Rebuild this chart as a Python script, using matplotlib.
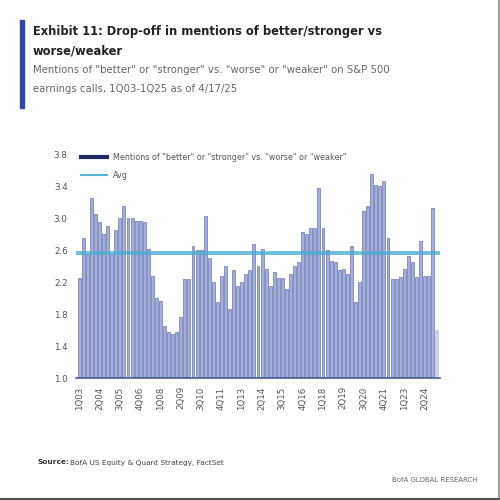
import numpy as np
import matplotlib
matplotlib.use('Agg')
import matplotlib.pyplot as plt
from matplotlib.patches import Rectangle
from matplotlib.lines import Line2D

# quarterly ratio of "better/stronger" vs "worse/weaker" mentions, 1Q03..1Q25
ratio = [2.25, 2.75, 2.55, 3.25, 3.05, 2.95, 2.80, 2.90, 2.55, 2.85,
         3.00, 3.15, 3.00, 3.00, 2.97, 2.97, 2.95, 2.62, 2.28, 2.00,
         1.96, 1.65, 1.58, 1.55, 1.58, 1.76, 2.24, 2.24, 2.65, 2.60,
         2.60, 3.03, 2.50, 2.20, 1.95, 2.28, 2.40, 1.86, 2.35, 2.15,
         2.20, 2.30, 2.35, 2.68, 2.40, 2.62, 2.37, 2.15, 2.33, 2.25,
         2.25, 2.12, 2.30, 2.40, 2.45, 2.83, 2.80, 2.88, 2.88, 3.38,
         2.88, 2.60, 2.46, 2.45, 2.35, 2.37, 2.30, 2.65, 1.95, 2.20,
         3.09, 3.15, 3.55, 3.42, 3.40, 3.47, 2.75, 2.24, 2.24, 2.27,
         2.37, 2.53, 2.45, 2.27, 2.72, 2.28, 2.28, 3.13, 1.60]
avg = 2.56

quarters = []
for yr in range(3, 26):
    for q in range(1, 5):
        quarters.append('%dQ%02d' % (q, yr))
quarters = quarters[:len(ratio)]
tick_idx = list(range(0, len(ratio), 5))
tick_labels = [quarters[i] for i in tick_idx]
yticks = [1.0, 1.4, 1.8, 2.2, 2.6, 3.0, 3.4, 3.8]

fig = plt.figure(figsize=(5, 5), dpi=100)
# frame only on right and bottom edge
fig.lines.append(Line2D([0.997, 0.997], [0.0, 1.0], transform=fig.transFigure,
                        color='#8a8a8a', lw=1.2))
fig.lines.append(Line2D([0.0, 1.0], [0.003, 0.003], transform=fig.transFigure,
                        color='#555555', lw=1.5))

# header
fig.patches.append(Rectangle((0.040, 0.784), 0.008, 0.176, transform=fig.transFigure,
                             color='#3347a8'))
fig.text(0.066, 0.937, 'Exhibit 11: Drop-off in mentions of better/stronger vs',
         fontsize=8.3, fontweight='bold', color='#222222', va='center')
fig.text(0.066, 0.899, 'worse/weaker', fontsize=8.3, fontweight='bold',
         color='#222222', va='center')
fig.text(0.066, 0.860, 'Mentions of "better" or "stronger" vs. "worse" or "weaker" on S&P 500',
         fontsize=7.3, color='#666666', va='center')
fig.text(0.066, 0.823, 'earnings calls, 1Q03-1Q25 as of 4/17/25',
         fontsize=7.3, color='#666666', va='center')

ax = fig.add_axes([0.152, 0.244, 0.728, 0.447])
x = np.arange(len(ratio))
colors = ['#a4addb'] * (len(ratio) - 1) + ['#ccd0e8']
edges = ['#6a77b0'] * (len(ratio) - 1) + ['#bcc0dd']
ax.bar(x, [r - 1.0 for r in ratio], bottom=1.0, width=0.72, color=colors,
       edgecolor=edges, linewidth=0.5, zorder=2)
ax.plot([-0.6, len(ratio) - 0.4], [avg, avg], color='#4aaed2', lw=2.8, alpha=0.8, zorder=3)

# legend handles
ax.plot([], [], color='#1f2d66', lw=3,
        label='Mentions of "better" or "stronger" vs. "worse" or "weaker"')
ax.plot([], [], color='#5ab4d6', lw=1.5, label='Avg')
ax.legend(loc='upper left', bbox_to_anchor=(0.0, 1.03), frameon=False, fontsize=5.8,
          labelcolor='#555555', handlelength=3.2, borderaxespad=0.2, labelspacing=1.2)

ax.set_xlim(-0.8, len(ratio) - 0.2)
ax.set_ylim(1.0, 3.8)
ax.set_yticks(yticks)
ax.set_yticklabels(['%.1f' % v for v in yticks], fontsize=6.3, color='#555555')
ax.set_xticks(tick_idx)
ax.set_xticklabels(tick_labels, rotation=90, fontsize=6.2, color='#555555')
ax.tick_params(length=0, pad=6)
for s in ['top', 'right', 'left']:
    ax.spines[s].set_visible(False)
ax.spines['bottom'].set_color('#4a5a96')
ax.spines['bottom'].set_linewidth(1.2)

fig.text(0.075, 0.075, 'Source:', fontsize=5.3, fontweight='bold', color='#333333', va='center')
fig.text(0.140, 0.075, 'BofA US Equity & Quant Strategy, FactSet', fontsize=5.3,
         color='#444444', va='center')
fig.text(0.955, 0.040, 'BofA GLOBAL RESEARCH', fontsize=5.0, color='#666666',
         ha='right', va='center')

fig.savefig('out.png', dpi=100)
